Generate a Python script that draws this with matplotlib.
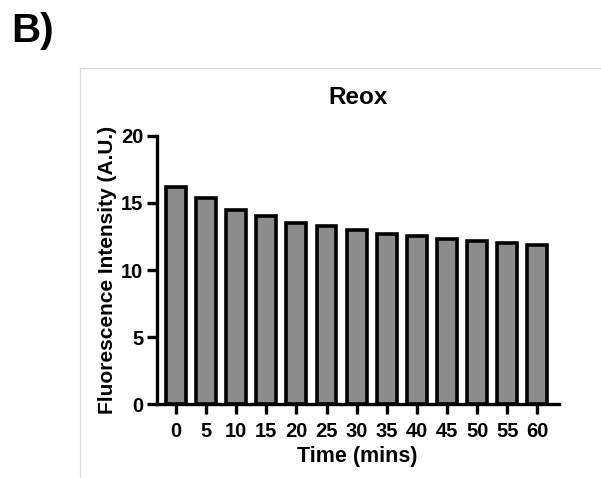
"""Reox fluorescence decay bar chart (panel B)."""
import matplotlib
matplotlib.use("Agg")
import matplotlib.pyplot as plt
from matplotlib.lines import Line2D

plt.rcParams["font.family"] = ["Liberation Sans", "DejaVu Sans"]
plt.rcParams["font.weight"] = "bold"

# Data
time_labels = ["0", "5", "10", "15", "20", "25", "30", "35", "40", "45", "50", "55", "60"]
intensity = [16.2, 15.35, 14.5, 14.0, 13.5, 13.25, 12.95, 12.7, 12.55, 12.3, 12.15, 12.0, 11.9]

BAR_GREY = "#8c8c8c"

fig = plt.figure(figsize=(6.01, 4.78), dpi=100)
ax = fig.add_axes([0.2607, 0.154, 0.669, 0.562])

x = range(len(time_labels))
ax.bar(x, intensity, width=0.66, color=BAR_GREY, edgecolor="black",
       linewidth=2.6, zorder=2)

ax.set_xlim(-0.64, 12.71)
ax.set_ylim(0, 20)
ax.set_yticks([0, 5, 10, 15, 20])
ax.set_xticks(list(x))
ax.set_xticklabels(time_labels)

for side in ("top", "right"):
    ax.spines[side].set_visible(False)
for side in ("left", "bottom"):
    ax.spines[side].set_linewidth(2.4)
ax.tick_params(axis="both", width=2.4, length=7.5, labelsize=14.5, pad=2)
ax.tick_params(axis="x", pad=5)
for lab in ax.get_xticklabels() + ax.get_yticklabels():
    lab.set_fontweight("bold")

ax.set_xlabel("Time (mins)", fontsize=15.5, fontweight="bold", labelpad=4)
ax.set_ylabel("Fluorescence Intensity (A.U.)", fontsize=15, fontweight="bold", labelpad=3)
ax.set_title("Reox", fontsize=17.5, fontweight="bold", pad=23)

# panel letter and faint frame
fig.text(0.018, 0.935, "B)", fontsize=29, fontweight="bold", va="center", ha="left")
fig.add_artist(Line2D([0.1326, 0.1326], [0.0, 0.857], color="#d9d9d9", lw=0.9,
                      transform=fig.transFigure))
fig.add_artist(Line2D([0.1326, 1.0], [0.857, 0.857], color="#d9d9d9", lw=0.9,
                      transform=fig.transFigure))

fig.savefig("out.png", dpi=100)
